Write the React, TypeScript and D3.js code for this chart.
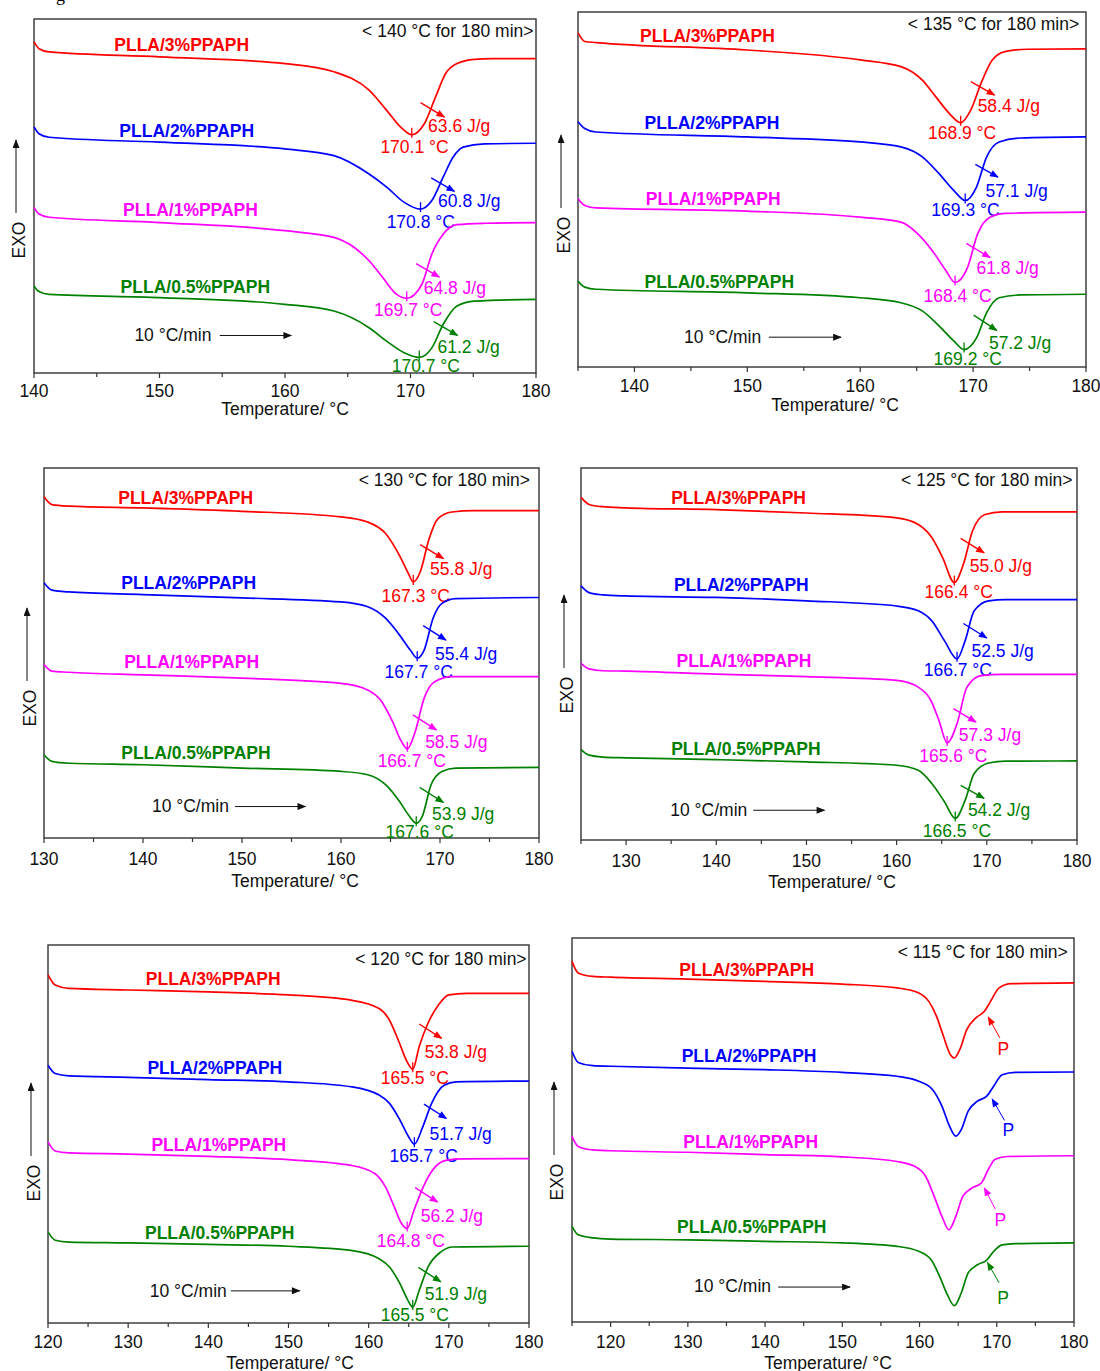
import React from 'react';
import * as d3 from 'd3';

type Pt = [number, number];

const seriesNames = ['PLLA/3%PPAPH', 'PLLA/2%PPAPH', 'PLLA/1%PPAPH', 'PLLA/0.5%PPAPH'];
const seriesColors = ['#ff0000', '#0000ff', '#ff00ff', '#008000'];
const isoTemps = [140, 135, 130, 125, 120, 115];
const tickLabels = [
  [140, 150, 160, 170, 180],
  [140, 150, 160, 170, 180],
  [130, 140, 150, 160, 170, 180],
  [130, 140, 150, 160, 170, 180],
  [120, 130, 140, 150, 160, 170, 180],
  [120, 130, 140, 150, 160, 170, 180],
];
const peakTemps = [
  [170.1, 170.8, 169.7, 170.7],
  [168.9, 169.3, 168.4, 169.2],
  [167.3, 167.7, 166.7, 167.6],
  [166.4, 166.7, 165.6, 166.5],
  [165.5, 165.7, 164.8, 165.5],
  [],
];
const enthalpies = [
  [63.6, 60.8, 64.8, 61.2],
  [58.4, 57.1, 61.8, 57.2],
  [55.8, 55.4, 58.5, 53.9],
  [55.0, 52.5, 57.3, 54.2],
  [53.8, 51.7, 56.2, 51.9],
  [],
];

// heat flow (a.u., 0 = axis, 100 = top of frame) vs temperature
const dsc140: Pt[][] = [
  [[140, 93.6], [140.4, 91.6], [141.2, 90.7], [150, 89.3], [160, 87.4], [163.9, 85.1], [166.7, 79.9], [168.1, 74.2], [169.2, 69.5], [170.1, 67.3], [171.1, 70.4], [172, 78], [172.8, 84.6], [173.7, 87.4], [175.1, 88.6], [176.5, 88.8], [180, 88.8]],
  [[140, 69.5], [140.4, 67.6], [141.2, 66.6], [150, 65.2], [160, 63.3], [163.9, 61.4], [166.7, 56.2], [168.1, 52.5], [169.5, 48.2], [170.8, 46.3], [171.7, 48.7], [172.6, 55.3], [173.4, 61], [174.2, 63.8], [175.9, 64.7], [180, 64.9]],
  [[140, 46.8], [140.4, 44.9], [141.2, 44], [150, 42.5], [160, 40.2], [163.9, 38.3], [166.7, 31.7], [167.8, 26.9], [168.9, 22.2], [169.7, 21.1], [170.9, 25], [171.7, 33.6], [172.6, 39.2], [173.7, 41.9], [175.9, 42.3], [180, 42.5]],
  [[140, 24.6], [140.4, 23], [141.2, 22.2], [150, 21.3], [160, 19.4], [163.9, 17.5], [166.7, 12.8], [168.1, 9], [169.5, 5.7], [170.7, 4.4], [171.7, 7.1], [172.6, 13.7], [173.7, 18.9], [175.1, 20.3], [180, 20.8]],
];
const dsc135: Pt[][] = [
  [[135, 94.1], [135.6, 91.7], [136.6, 91.4], [150, 89.3], [160, 86.5], [163.6, 84.6], [165.5, 80.8], [166.7, 76.1], [167.9, 71.4], [168.9, 68.8], [169.8, 72.4], [170.7, 79.9], [171.7, 86.5], [172.9, 88.9], [174.8, 89.5], [180, 89.6]],
  [[135, 69.1], [135.6, 67.2], [136.6, 66.2], [150, 64.8], [160, 63.4], [163.6, 62], [165.5, 59.2], [167, 54.4], [168.3, 49.7], [169.3, 46.9], [170.3, 50.7], [171.2, 59.2], [172.3, 63.4], [174.2, 64.5], [180, 64.8]],
  [[135, 47.4], [135.6, 45.5], [136.6, 44.8], [150, 43.9], [160, 42.2], [163.6, 40.8], [165.1, 37.5], [166.4, 32.7], [167.6, 27.1], [168.4, 23.8], [169.5, 28], [170.4, 37.5], [171.5, 42.2], [172.9, 43.3], [180, 43.6]],
  [[135, 24.2], [135.6, 22.5], [136.6, 21.9], [150, 20.9], [160, 19.5], [163.6, 18.1], [165.5, 15.8], [167, 11.5], [168.3, 7.3], [169.2, 4.9], [170.3, 8.2], [171.2, 15.3], [172.3, 19.5], [174.2, 20.3], [180, 20.5]],
];
const dsc130: Pt[][] = [
  [[130, 92.2], [130.8, 90.1], [132.5, 89.7], [140, 89.2], [150, 88.3], [160, 86.8], [162.7, 85.4], [164.5, 82.3], [165.9, 76.4], [166.8, 71.5], [167.3, 69.2], [168, 71.9], [168.9, 80.9], [169.8, 86.3], [171.2, 88.1], [173.4, 88.5], [180, 88.5]],
  [[130, 69], [130.8, 67], [132.5, 66.5], [140, 65.8], [150, 64.9], [160, 63.8], [162.7, 62.5], [164.5, 59.4], [165.9, 54.9], [167, 50.8], [167.7, 48.6], [168.4, 50.8], [169.3, 59.4], [170.2, 63.4], [171.6, 64.7], [180, 65]],
  [[130, 46.9], [130.8, 45.1], [132.5, 44.8], [140, 44.1], [150, 43.2], [160, 41.8], [162.7, 40], [164.1, 36.9], [165.2, 31.5], [166.1, 26.1], [166.7, 24.1], [167.5, 28.8], [168.4, 37.8], [169.5, 42.3], [171.2, 43.6], [180, 43.6]],
  [[130, 22.5], [130.8, 20.7], [132.5, 20.2], [140, 19.8], [150, 18.9], [160, 18], [162.7, 17.1], [164.5, 14.4], [165.9, 9.9], [166.8, 6.3], [167.6, 4], [168.2, 5.8], [169.1, 14.4], [170.2, 18], [171.6, 18.9], [180, 19.1]],
];
const dsc125: Pt[][] = [
  [[125, 92.1], [125.9, 90.2], [127.4, 89.6], [130, 89.3], [140, 88.8], [150, 87.9], [160, 86.6], [162.4, 84.8], [163.9, 81.3], [165.1, 75.9], [166.4, 69.2], [167.4, 74.1], [168.4, 83], [169.8, 87.5], [171.7, 88.2], [180, 88.2]],
  [[125, 68.3], [125.9, 66.5], [127.4, 65.9], [130, 65.6], [140, 65.2], [150, 64.3], [160, 62.9], [162.4, 61.6], [163.9, 58.9], [165.3, 53.6], [166.7, 48.7], [167.6, 53.6], [168.6, 61.6], [170.2, 64.3], [172.1, 64.6], [180, 64.6]],
  [[125, 47.5], [125.9, 46], [127.4, 45.5], [130, 45.4], [140, 44.6], [150, 43.9], [160, 42.9], [162.4, 41.1], [163.8, 37.5], [164.7, 32.1], [165.6, 26.1], [166.7, 31.3], [167.8, 41.1], [169.4, 44.2], [171.7, 44.5], [180, 44.5]],
  [[125, 24.3], [125.9, 22.8], [127.4, 22.3], [130, 22.1], [140, 21.6], [150, 21], [160, 20.1], [162.4, 18.75], [163.9, 15.2], [165.3, 10.3], [166.5, 5.8], [167.6, 10.7], [168.6, 17.9], [170.2, 20.7], [172.1, 21.2], [180, 21.25]],
];
const dsc120: Pt[][] = [
  [[120, 92.1], [120.9, 89.4], [122.6, 88.5], [130, 88.1], [140, 87.6], [150, 86.8], [157.8, 85.4], [161.3, 83.2], [162.6, 80.1], [163.7, 74.8], [164.8, 69.1], [165.5, 67.1], [166.3, 73.1], [167.4, 79.3], [168.7, 84.1], [170, 86.8], [172.2, 87.2], [180, 87.2]],
  [[120, 68.2], [120.9, 66], [122.6, 65.4], [130, 65], [140, 64.4], [150, 63.8], [157.8, 62.5], [161.3, 60.3], [162.6, 58.1], [163.9, 53.7], [165, 49.2], [165.7, 47.3], [166.75, 51.9], [167.85, 58.1], [169.4, 62.9], [170.9, 63.8], [180, 64]],
  [[120, 47.9], [120.9, 45.5], [122.6, 45], [130, 44.7], [140, 44.1], [150, 43.2], [157.8, 41.7], [160.8, 39.5], [162.1, 36], [163.2, 30.7], [164.1, 26.3], [164.8, 25], [165.65, 29.8], [167, 36.9], [168.3, 41.3], [169.8, 43.1], [171.8, 43.4], [180, 43.5]],
  [[120, 24.1], [120.9, 21.9], [122.6, 21.4], [130, 21.2], [140, 20.8], [150, 20.3], [157.8, 19.2], [161.3, 17], [162.6, 14.8], [163.9, 10.4], [164.8, 6.4], [165.5, 4.2], [166.3, 8.6], [167.4, 14.8], [169, 18.8], [170.5, 20.1], [180, 20.3]],
];
const dsc115: Pt[][] = [
  [[115, 93.9], [115.8, 90.9], [117.7, 90], [120, 89.8], [130, 89.3], [140, 88.7], [150, 88], [157.1, 87], [159.9, 85.7], [161.2, 83.5], [162.2, 79.6], [163.1, 74.4], [164, 69.6], [164.5, 68.75], [165.2, 70.9], [166.1, 76.1], [167.3, 79.2], [168.4, 80.9], [169.2, 83.5], [170.3, 87], [171.9, 88.1], [180, 88.3]],
  [[115, 70.5], [115.8, 67.6], [117.7, 66.75], [120, 66.6], [130, 66.1], [140, 65.7], [150, 65], [157.1, 64], [159.9, 62.7], [161.7, 60.5], [162.9, 56.2], [163.8, 51.4], [164.7, 48.4], [165.4, 50.1], [166.3, 54.9], [167.5, 57.5], [168.7, 58.8], [169.6, 61.4], [170.7, 64.4], [172.4, 65], [180, 65.1]],
  [[115, 48.35], [115.8, 45.7], [117.7, 44.8], [120, 44.6], [130, 44.2], [140, 43.6], [150, 43], [157.1, 41.8], [159.4, 40.5], [160.8, 37.9], [161.9, 32.7], [162.9, 27.5], [163.8, 24], [164.7, 27.5], [165.6, 32.7], [166.8, 34.9], [168, 36.2], [168.9, 39.7], [169.8, 42.4], [171.4, 43.1], [180, 43.3]],
  [[115, 24.9], [115.8, 22.7], [117.7, 21.9], [120, 21.6], [130, 21.4], [140, 21], [150, 20.6], [157.1, 19.7], [159.9, 18.4], [161.5, 16.2], [162.6, 11.9], [163.6, 7.1], [164.5, 4.25], [165.4, 7.55], [166.3, 12.8], [167.5, 14.9], [168.7, 16.1], [169.6, 18.4], [170.7, 20.1], [172.4, 20.4], [180, 20.6]],
];
const panelData = [dsc140, dsc135, dsc130, dsc125, dsc120, dsc115];

// page layout of each panel; annotation anchors are in (°C, a.u.)
const layouts = [
  {
    left: 34, right: 536, top: 19, bottom: 373, tMin: 140, tickY: 397, titleX: 285, titleY: 415, exoX: 19, exoY: 240,
    title: [179.8, 95], names: [[146.4, 91], [146.8, 66.8], [147.1, 44.4], [146.9, 22.5]],
    arrows: [[170.8, 76.4, 172.7, 72.3], [171.65, 55.1, 173.5, 51.3], [170.45, 30.9, 172.3, 27.1], [171.85, 14.5, 173.75, 10.6]],
    heat: [[171.4, 68.1], [172.2, 46.8], [171.05, 22.4], [172.15, 5.7]],
    peak: [[167.6, 62.2], [168.1, 41.1], [167.1, 16.1], [168.5, 0.3]],
    rate: [148, 9, 154.8, 160.5, 10.6],
  },
  {
    left: 578, right: 1086, top: 12, bottom: 367, tMin: 135, tickY: 392, titleX: 835, titleY: 411, exoX: 564, exoY: 235,
    title: [179.4, 95], names: [[140.5, 91.5], [140.9, 67], [141, 45.7], [140.9, 22.2]],
    arrows: [[169.8, 80.4, 171.9, 76.6], [170.2, 57.1, 172.2, 53.5], [169.4, 34.8, 171.5, 30.8], [170.05, 14.6, 172.1, 10.3]],
    heat: [[170.4, 71.9], [171.1, 47.8], [170.3, 26.1], [171.4, 5.2]],
    peak: [[166, 64.3], [166.3, 42.6], [165.6, 18.3], [166.5, 0.5]],
    rate: [144.4, 6.8, 151.9, 158.3, 8.4],
  },
  {
    left: 44, right: 539, top: 468, bottom: 838, tMin: 130, tickY: 865, titleX: 295, titleY: 887, exoX: 30, exoY: 708,
    title: [179.1, 95.1], names: [[137.5, 90.4], [137.8, 67.4], [138.1, 46], [137.8, 21.4]],
    arrows: [[168, 79.3, 170.35, 75.5], [168.3, 57.4, 170.6, 53.5], [167.25, 33.3, 169.65, 29.2], [167.95, 13.7, 170.35, 9.6]],
    heat: [[169, 71], [169.5, 48.1], [168.5, 24.3], [169.2, 4.9]],
    peak: [[164.1, 63.8], [164.4, 43.3], [163.7, 19.3], [164.5, 0]],
    rate: [140.9, 7, 149.3, 156.4, 8.5],
  },
  {
    left: 581, right: 1077, top: 468, bottom: 840, tMin: 125, tickY: 867, titleX: 832, titleY: 888, exoX: 567, exoY: 695,
    title: [179.5, 95.1], names: [[135, 90.2], [135.3, 67], [135.6, 46.6], [135, 22.9]],
    arrows: [[167.1, 81.1, 169.7, 77.2], [167.4, 58.2, 170, 54.3], [166.3, 35.3, 168.8, 31.7], [167.1, 14.7, 169.7, 11.2]],
    heat: [[168.1, 72.1], [168.3, 49.1], [166.9, 26.6], [167.9, 6.4]],
    peak: [[163.1, 65], [163, 44.2], [162.5, 21], [162.9, 0.9]],
    rate: [134.9, 6.4, 144.1, 152, 8],
  },
  {
    left: 48, right: 529, top: 945, bottom: 1323, tMin: 120, tickY: 1348, titleX: 290, titleY: 1369, exoX: 34, exoY: 1183,
    title: [179.7, 94.7], names: [[132.2, 89.4], [132.4, 66], [132.9, 45.5], [132.1, 22.3]],
    arrows: [[166.3, 79.1, 169.1, 75.3], [166.9, 57.9, 169.7, 54.1], [165.8, 35.8, 168.6, 32], [166.2, 14.7, 169, 10.9]],
    heat: [[167, 70], [167.6, 48.5], [166.5, 26.7], [167, 6]],
    peak: [[161.5, 63.2], [162.6, 42.6], [161, 20.1], [161.5, 0.5]],
    rate: [132.7, 6.9, 142.8, 151.4, 8.5],
  },
  {
    left: 572, right: 1074, top: 938, bottom: 1322, tMin: 115, tickY: 1348, titleX: 828, titleY: 1369, exoX: 557, exoY: 1182,
    title: [179.2, 94.8], names: [[128.9, 90.2], [129.2, 67.6], [129.4, 45.3], [128.6, 23.2]],
    arrows: [[170.4, 74, 168.9, 79.4], [171, 52.5, 169.4, 58.1], [169.8, 29.4, 168.4, 34.9], [170.3, 10.2, 168.8, 15.5]],
    heat: [[170.1, 69.6], [170.75, 48.35], [169.7, 24.9], [170.05, 4.8]],
    peak: [],
    rate: [130.8, 7.7, 141.7, 151, 9.1],
  },
];

const FONT = '"Liberation Sans", Arial, sans-serif';
const AXIS = '#333';
const FS = 17.5;

const Panel = ({ idx }: { idx: number }) => {
  const L: any = layouts[idx];
  const data = panelData[idx];
  const x = d3.scaleLinear().domain([L.tMin, 180]).range([L.left, L.right]);
  const y = d3.scaleLinear().domain([0, 100]).range([L.bottom, L.top]);
  const line = d3
    .line<Pt>()
    .x((d) => x(d[0]))
    .y((d) => y(d[1]))
    .curve(d3.curveMonotoneX);
  const minor = d3.range(L.tMin, 180.01, 5).filter((t) => t % 10 !== 0);
  const peaks = peakTemps[idx];
  const isP = peaks.length === 0;

  return (
    <g fontFamily={FONT}>
      <rect x={L.left} y={L.top} width={L.right - L.left} height={L.bottom - L.top} fill="none" stroke={AXIS} strokeWidth={1.4} />
      {tickLabels[idx].map((t) => (
        <g key={t}>
          <line x1={x(t)} x2={x(t)} y1={L.bottom} y2={L.bottom + 5} stroke={AXIS} strokeWidth={1.2} />
          <text x={x(t)} y={L.tickY} fontSize={FS} textAnchor="middle" fill="#111">{t}</text>
        </g>
      ))}
      {minor.map((t) => (
        <line key={'m' + t} x1={x(t)} x2={x(t)} y1={L.bottom} y2={L.bottom + 4} stroke={AXIS} strokeWidth={1.2} />
      ))}
      <text x={L.titleX} y={L.titleY} fontSize={FS} textAnchor="middle" fill="#111">Temperature/ °C</text>
      <text
        transform={`translate(${L.exoX},${L.exoY}) rotate(-90)`}
        fontSize={FS}
        textAnchor="middle"
        dominantBaseline="central"
        fill="#111"
      >
        EXO
      </text>
      <line x1={L.exoX - 3} x2={L.exoX - 3} y1={L.exoY - 27} y2={L.exoY - 100} stroke="#111" strokeWidth={1} markerEnd="url(#ah-k)" />
      <text x={x(L.title[0])} y={y(L.title[1])} fontSize={FS} textAnchor="end" fill="#111">
        {`< ${isoTemps[idx]} °C for 180 min>`}
      </text>
      <text x={x(L.rate[0])} y={y(L.rate[1])} fontSize={FS} fill="#111">10 °C/min</text>
      <line x1={x(L.rate[2])} x2={x(L.rate[3])} y1={y(L.rate[4])} y2={y(L.rate[4])} stroke="#111" strokeWidth={1} markerEnd="url(#ah-k)" />

      {data.map((s, i) => {
        const c = seriesColors[i];
        const lo = d3.least(s, (d) => d[1]) as Pt;
        const a = L.arrows[i];
        return (
          <g key={i}>
            <path d={line(s) || ''} fill="none" stroke={c} strokeWidth={1.7} />
            <text x={x(L.names[i][0])} y={y(L.names[i][1])} fontSize={FS} fontWeight="bold" fill={c}>
              {seriesNames[i]}
            </text>
            <line
              x1={x(a[0])}
              y1={y(a[1])}
              x2={x(a[2])}
              y2={y(a[3])}
              stroke={c}
              strokeWidth={isP ? 1 : 1.4}
              markerEnd={`url(#ah-${i})`}
            />
            {isP ? (
              <text x={x(L.heat[i][0])} y={y(L.heat[i][1])} fontSize={FS} fill={c}>P</text>
            ) : (
              <>
                <line x1={x(lo[0])} x2={x(lo[0])} y1={y(lo[1]) - 7} y2={y(lo[1]) + 3} stroke={c} strokeWidth={1.3} />
                <text x={x(L.heat[i][0])} y={y(L.heat[i][1])} fontSize={FS} fill={c}>
                  {`${enthalpies[idx][i].toFixed(1)} J/g`}
                </text>
                <text x={x(L.peak[i][0])} y={y(L.peak[i][1])} fontSize={FS} fill={c}>
                  {`${peaks[i].toFixed(1)} °C`}
                </text>
              </>
            )}
          </g>
        );
      })}
    </g>
  );
};

const App = () => {
  return (
    <svg
      width={1100}
      height={1371}
      style={{ position: 'absolute', left: 0, top: 0, background: '#fff' }}
    >
      <defs>
        {[...seriesColors, '#111'].map((c, i) => (
          <marker
            key={i}
            id={i < 4 ? `ah-${i}` : 'ah-k'}
            viewBox="0 0 10 8"
            refX={9}
            refY={4}
            markerWidth={10}
            markerHeight={7}
            markerUnits="userSpaceOnUse"
            orient="auto"
          >
            <path d="M0,0 L10,4 L0,8 z" fill={c} />
          </marker>
        ))}
      </defs>
      <rect width={1100} height={1371} fill="#fff" />
      <text x={56} y={1} fontSize={18} fontFamily="serif">g</text>
      {layouts.map((_, i) => (
        <Panel key={i} idx={i} />
      ))}
    </svg>
  );
};

export default App;
